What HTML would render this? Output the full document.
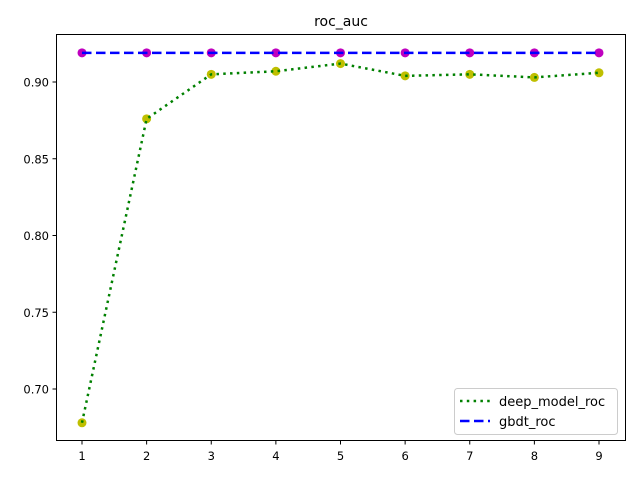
<!DOCTYPE html>
<html><head><meta charset="utf-8"><style>body{margin:0;background:#fff}svg{display:block;font-family:"DejaVu Sans","Liberation Sans",sans-serif}</style></head>
<body>
<svg id="chart" width="640" height="480">
<rect x="0" y="0" width="640" height="480" fill="#fff"/>
<text x="341" y="26" text-anchor="middle" font-size="14">roc_auc</text>
<g id="plot"></g>
<rect x="56.5" y="34.5" width="569" height="406" fill="none" stroke="#000" stroke-width="1"/>
<g>
<rect x="454.5" y="388.5" width="163" height="46" rx="3" fill="#fff" fill-opacity="0.8" stroke="#ccc"/>
<line x1="460" y1="401" x2="490" y2="401" stroke="#008000" stroke-width="2.5" stroke-dasharray="2.5,4.3"/>
<text x="499" y="406" font-size="13">deep_model_roc</text>
<line x1="460" y1="421" x2="490" y2="421" stroke="#0000ff" stroke-width="2.5" stroke-dasharray="9.5,4.5"/>
<text x="499" y="426" font-size="13">gbdt_roc</text>
</g>
</svg>
<script>
const xs = [1,2,3,4,5,6,7,8,9];
const deepRoc = [0.678,0.876,0.905,0.907,0.912,0.904,0.905,0.903,0.906];
const gbdtRoc = [0.919,0.919,0.919,0.919,0.919,0.919,0.919,0.919,0.919];
const yTicks = [0.70,0.75,0.80,0.85,0.90];
const xTicks = [1,2,3,4,5,6,7,8,9];
const NS='http://www.w3.org/2000/svg';
const X = v => 82 + (v-1)*(599-82)/8;
const Y = v => 82 + (0.90 - v)*(389-82)/0.20;
const svg=document.getElementById('chart');
const g=document.getElementById('plot');
function mk(t,a,p){const e=document.createElementNS(NS,t);for(const k in a)e.setAttribute(k,a[k]);(p||g).appendChild(e);return e;}
yTicks.forEach(v=>{
 const y=Y(v);
 const l=mk('line',{x1:52.5,x2:56.5,y1:y,y2:y,stroke:'#000'},svg);
 
 
 const t=mk('text',{x:49,y:y+4.5,'text-anchor':'end','font-size':11.5},svg);
 t.textContent=v.toFixed(2);
 
 
});
xTicks.forEach(v=>{
 const x=X(v);
 const l=mk('line',{x1:x,x2:x,y1:440.5,y2:444.5,stroke:'#000'},svg);
 
 
 const t=mk('text',{x:x,y:460,'text-anchor':'middle','font-size':11.5},svg);
 t.textContent=v;
 
 
});
xs.forEach((x,i)=>{
 const c=mk('circle',{cx:X(x),cy:Y(deepRoc[i]),r:4.5,fill:'#bfbf00'});
 
 
});
xs.forEach((x,i)=>{
 const c=mk('circle',{cx:X(x),cy:Y(gbdtRoc[i]),r:4.5,fill:'#bf00bf'});
 
 
});
const dl=mk('polyline',{points:xs.map((x,i)=>X(x)+','+Y(deepRoc[i])).join(' '),fill:'none',stroke:'#008000','stroke-width':2.5,'stroke-dasharray':'2.5,4.3'});


const gl=mk('polyline',{points:xs.map((x,i)=>X(x)+','+Y(gbdtRoc[i])).join(' '),fill:'none',stroke:'#0000ff','stroke-width':2.5,'stroke-dasharray':'9.5,4.5'});


</script>
</body></html>
